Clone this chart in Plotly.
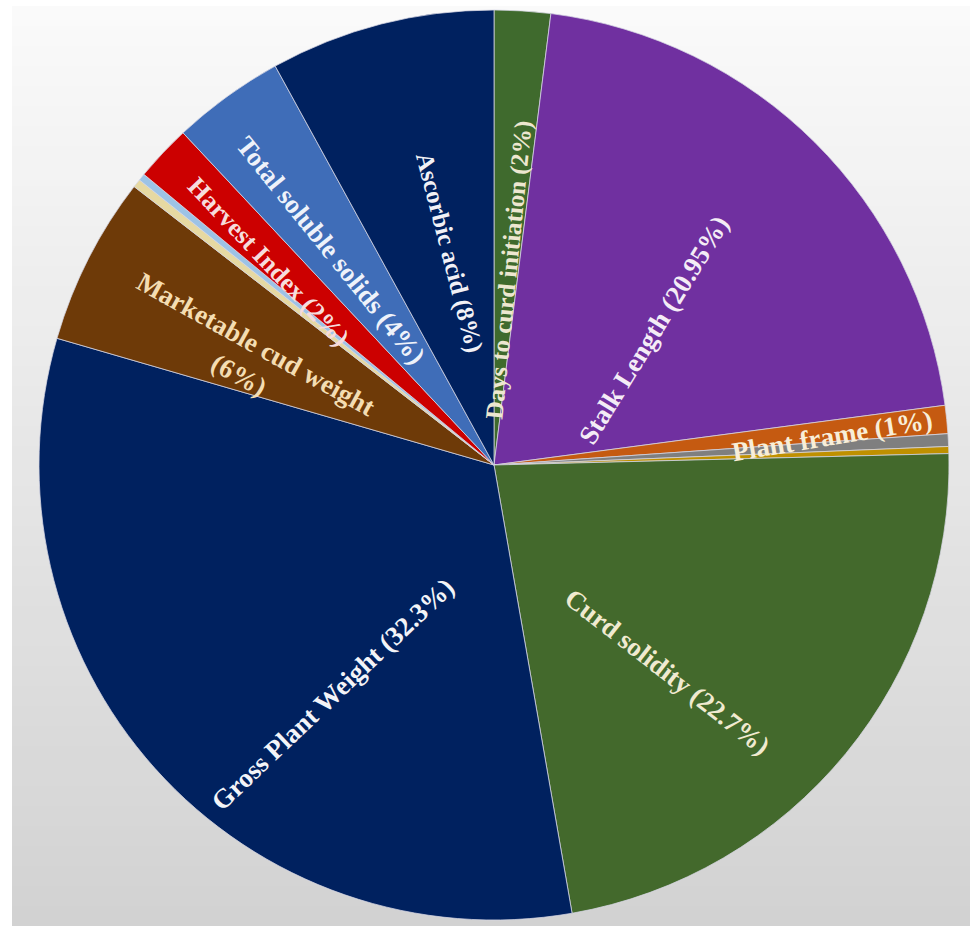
import math
import plotly.graph_objects as go

# Share of each trait (percent), clockwise from 12 o'clock
traits = [
    "Days to curd initiation", "Stalk Length", "Plant frame", "Minor trait A", "Minor trait B",
    "Curd solidity", "Gross Plant Weight", "Marketable cud weight", "Minor trait C", "Minor trait D",
    "Harvest Index", "Total soluble solids", "Ascorbic acid",
]
shares = [2, 20.95, 1, 0.45, 0.25, 22.7, 32.3, 6, 0.3, 0.25, 2, 4, 8]
shown = [True, True, True, False, False, True, True, True, False, False, True, True, True]

slice_colors = [
    "#3F6A2D", "#7030A0", "#C55A11", "#7F7F7F", "#BF9000",
    "#43692C", "#00215F", "#6E3A08", "#E6D9A2", "#9DC3E6",
    "#CC0000", "#3F6DB8", "#00215F",
]
label_colors = {
    "Days to curd initiation": "#EDE7D0",
    "Stalk Length": "#F4ECF6",
    "Plant frame": "#F8EED8",
    "Curd solidity": "#F0EAD0",
    "Gross Plant Weight": "#F3F4F8",
    "Marketable cud weight": "#F4DDB2",
    "Harvest Index": "#F6DCDC",
    "Total soluble solids": "#EEF2FA",
    "Ascorbic acid": "#F1F1F6",
}
# label placement relative to each slice: (angle shift, radius fraction, rotation shift)
label_place = {
    "Days to curd initiation": (0.8, 0.43, 2.1),
    "Stalk Length": (5.0, 0.46, -13.3),
    "Plant frame": (0.8, 0.745, -3.6),
    "Curd solidity": (10.6, 0.593, -1.4),
    "Gross Plant Weight": (-13.0, 0.615, -1.7),
    "Marketable cud weight": (-3.8, 0.59, 2.0),
    "Harvest Index": (-1.3, 0.668, 3.2),
    "Total soluble solids": (-1.4, 0.593, -3.0),
    "Ascorbic acid": (2.6, 0.477, -0.1),
}
label_sizes = {"Days to curd initiation": 25, "Ascorbic acid": 25, "Harvest Index": 26}
default_size = 27

W, H = 972, 926
CX, CY, R = 494, 465, 455  # pie centre and radius in pixels

fig = go.Figure()

fig.add_trace(go.Pie(
    labels=traits,
    values=shares,
    sort=False,
    direction="clockwise",
    rotation=0,
    marker=dict(colors=slice_colors, line=dict(color="rgba(215,215,228,0.75)", width=1)),
    textinfo="none",
    hoverinfo="label+value",
    showlegend=False,
    domain=dict(
        x=[(CX - R) / W, (CX + R) / W],
        y=[1 - (CY + R) / H, 1 - (CY - R) / H],
    ),
))

# radial labels placed along each slice
total = sum(shares)
start = 0.0
annotations = []
for name, val, vis in zip(traits, shares, shown):
    span = 360.0 * val / total
    mid = start + span / 2
    start += span
    if not vis:
        continue
    dth, rf, drot = label_place[name]
    th = math.radians(mid + dth)
    px = CX + rf * R * math.sin(th)
    py = CY - rf * R * math.cos(th)
    rot_th = mid + drot
    angle = rot_th - 90 if rot_th < 180 else rot_th - 270
    if name == "Marketable cud weight":
        text = f"<b>{name}<br>({val:g}%)</b>"
    else:
        text = f"<b>{name} ({val:g}%)</b>"
    annotations.append(dict(
        x=px / W, y=1 - py / H, xref="paper", yref="paper",
        text=text, showarrow=False, textangle=angle,
        xanchor="center", yanchor="middle", align="center",
        font=dict(family="Liberation Serif", size=label_sizes.get(name, default_size),
                  color=label_colors[name]),
    ))

# soft vertical grey gradient behind the pie
shapes = []
top, bottom, left, right = 6, 926, 12, 970
bands = 46
for i in range(bands):
    y0 = top + (bottom - top) * i / bands
    y1 = top + (bottom - top) * (i + 1) / bands
    t = (i + 0.5) / bands
    g = round(250 - t * 40)
    shapes.append(dict(
        type="rect", xref="paper", yref="paper", layer="below",
        x0=left / W, x1=right / W, y0=1 - y1 / H, y1=1 - y0 / H,
        fillcolor=f"rgb({g},{g},{g})", line=dict(width=0),
    ))

fig.update_layout(
    width=W, height=H,
    margin=dict(l=0, r=0, t=0, b=0),
    paper_bgcolor="#ffffff",
    plot_bgcolor="#ffffff",
    annotations=annotations,
    shapes=shapes,
)

fig.write_html("out.html")
